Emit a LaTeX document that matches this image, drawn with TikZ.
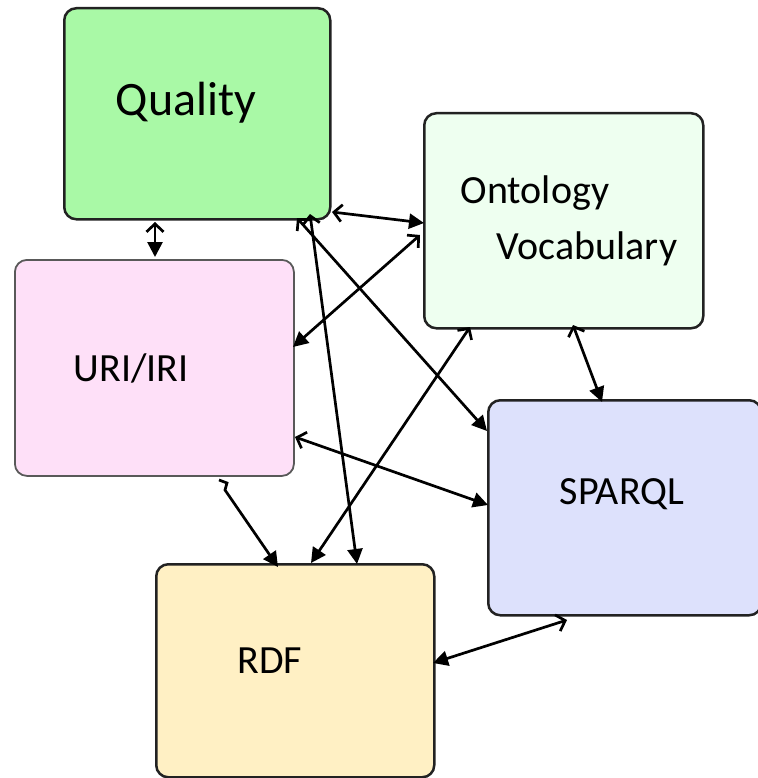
\documentclass[tikz,border=0pt]{standalone}
\usepackage{fontspec}
\setmainfont{Carlito}
\usetikzlibrary{arrows.meta,calc}
\definecolor{qualfill}{HTML}{A9F9A6}
\definecolor{ontfill}{HTML}{EEFFF0}
\definecolor{urifill}{HTML}{FEE0F8}
\definecolor{sparqlfill}{HTML}{DDE1FC}
\definecolor{rdffill}{HTML}{FFF0C4}
\definecolor{edge}{HTML}{222222}
\tikzset{
  topic/.style={draw=edge, line width=2.5pt, rounded corners=12pt, anchor=north west, inner sep=0pt},
  label/.style={inner sep=0pt, font=\fontsize{40}{48}\selectfont},
  link/.style={line width=2.7pt, black,
    {Straight Barb[length=8pt,width=17pt,line width=2.7pt]}-{Triangle[length=15pt,width=15pt]}},
  linkrev/.style={line width=2.7pt, black,
    {Triangle[length=15pt,width=15pt]}-{Straight Barb[length=8pt,width=17pt,line width=2.7pt]}},
  oneway/.style={line width=2.7pt, black, -{Triangle[length=15pt,width=15pt]}}
}
\begin{document}
\begin{tikzpicture}[x=1pt,y=-1pt]
\useasboundingbox (0,0) rectangle (757,778);

% boxes
\node[topic, fill=qualfill, minimum width=266pt, minimum height=211pt] (q) at (63,7) {};
\node[topic, fill=ontfill, minimum width=279pt, minimum height=215pt] (o) at (423,112) {};
\node[topic, fill=urifill, draw=edge!75, line width=1.8pt, minimum width=279pt, minimum height=216pt] (u) at (14,259) {};
\node[topic, fill=sparqlfill, minimum width=273pt, minimum height=215pt] (s) at (487,399) {};
\node[topic, fill=rdffill, minimum width=278pt, minimum height=213pt] (r) at (155,563) {};

% texts
\node[label, font=\fontsize{48}{56}\selectfont] (qt) at (186,103) {Quality};
\node[label] (ot1) at (535,193) {Ontology};
\node[label] (ot2) at (587,249) {Vocabulary};
\node[label] (ut) at (131,368) {URI/IRI};
\node[label] (st) at (622,494) {SPARQL};
\node[label] (rt) at (270,661) {RDF};

% connector end points, placed on the box borders
\coordinate (q1) at ($(q.north west)+(92,215)$);
\coordinate (q2) at ($(q.north west)+(269,205)$);
\coordinate (q4) at ($(q.north west)+(234,211)$);
\coordinate (q5) at ($(q.north west)+(247,207)$);
\coordinate (o2) at ($(o.north west)+(1,111)$);
\coordinate (o3) at ($(o.north west)+(-3,123)$);
\coordinate (o6) at ($(o.north west)+(47,215)$);
\coordinate (o9) at ($(o.north west)+(150,213)$);
\coordinate (u1) at ($(u.north west)+(141,-2)$);
\coordinate (u3) at ($(u.north west)+(279,88)$);
\coordinate (u7) at ($(u.north west)+(281,178)$);
\coordinate (u8) at ($(u.north west)+(205,221)$);
\coordinate (s4) at ($(s.north west)+(0,32)$);
\coordinate (s7) at ($(s.north west)+(1,106)$);
\coordinate (s9) at ($(s.north west)+(115,3)$);
\coordinate (s10) at ($(s.north west)+(80,221)$);
\coordinate (r5) at ($(r.north west)+(202,1)$);
\coordinate (r6) at ($(r.north west)+(156,0)$);
\coordinate (r8) at ($(r.north west)+(123,4)$);
\coordinate (r10) at ($(r.north west)+(278,100)$);

% connectors
\draw[link] (q1) -- (u1);
\draw[link] (q2) -- (o2);
\draw[link] (o3) -- (u3);
\draw[link] (q4) -- (s4);
\draw[link] (q5) -- (r5);
\draw[link] (o6) -- (r6);
\draw[link] (u7) -- (s7);
\draw[oneway] (u8) -- ++(8,3) -- ++(-2,7) -- (r8);
\draw[link] (o9) -- (s9);
\draw[linkrev] (r10) -- (s10);
\end{tikzpicture}
\end{document}
